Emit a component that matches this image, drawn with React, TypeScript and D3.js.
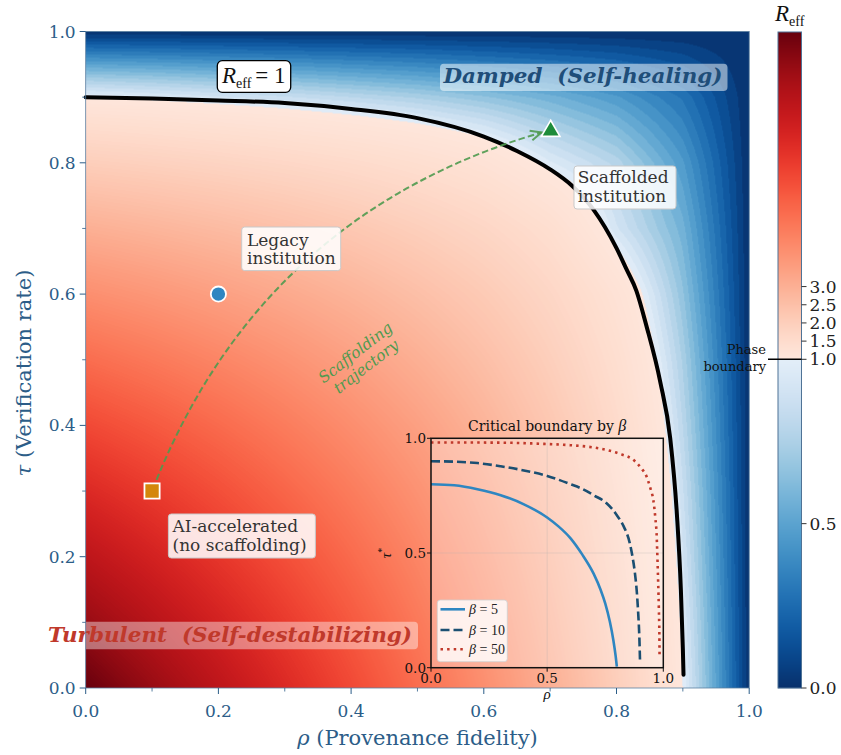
import { useMemo } from 'react'
import * as d3 from 'd3'

// grid of the R_eff field
const GRID_RHO = [0, 0.1, 0.2, 0.3, 0.4, 0.5, 0.6, 0.7, 0.8, 0.9, 1.0]
const GRID_TAU = [0, 0.1, 0.2, 0.3, 0.4, 0.5, 0.6, 0.7, 0.8, 0.9, 1.0]
// one row per tau (bottom -> top), one value per rho
const R_EFF_ROWS = [
  [10, 9, 8, 7, 6, 5, 4, 3, 2, 1, 0],
  [9, 8.15, 7.3, 6.43, 5.55, 4.65, 3.75, 2.83, 1.9, 0.96, 0],
  [8, 7.3, 6.57, 5.83, 5.07, 4.28, 3.48, 2.65, 1.79, 0.91, 0],
  [7, 6.43, 5.83, 5.21, 4.56, 3.89, 3.19, 2.45, 1.67, 0.86, 0],
  [6, 5.55, 5.07, 4.56, 4.03, 3.47, 2.87, 2.23, 1.54, 0.8, 0],
  [5, 4.65, 4.28, 3.89, 3.47, 3.01, 2.52, 1.98, 1.39, 0.74, 0],
  [4, 3.75, 3.48, 3.19, 2.87, 2.52, 2.14, 1.71, 1.22, 0.66, 0],
  [3, 2.83, 2.65, 2.45, 2.23, 1.98, 1.71, 1.39, 0.91, 0.57, 0],
  [2, 1.9, 1.79, 1.67, 1.54, 1.39, 1.22, 0.96, 0.78, 0.46, 0],
  [1, 0.96, 0.91, 0.86, 0.8, 0.74, 0.66, 0.57, 0.46, 0.29, 0],
  [0, 0, 0, 0, 0, 0, 0, 0, 0, 0, 0],
]
const R_MAX = 10

// R_eff = 1 phase boundary (beta = 10)
const BOUNDARY_RHO = [0, 0.1, 0.2, 0.3, 0.4, 0.5, 0.6, 0.65, 0.7, 0.733, 0.765, 0.8, 0.815, 0.83, 0.845, 0.866, 0.881, 0.891, 0.897, 0.9, 0.901]
const BOUNDARY_TAU = [0.9, 0.898, 0.895, 0.891, 0.882, 0.868, 0.84, 0.818, 0.79, 0.765, 0.729, 0.67, 0.638, 0.605, 0.552, 0.466, 0.38, 0.265, 0.15, 0.06, 0.02]

// inset: critical boundary for several beta
const BETA_5 = [[0, 0.8], [0.1, 0.795], [0.2, 0.778], [0.3, 0.752], [0.4, 0.712], [0.5, 0.655], [0.55, 0.615], [0.6, 0.565], [0.65, 0.495], [0.7, 0.41], [0.73, 0.34], [0.75, 0.28], [0.77, 0.2], [0.785, 0.12], [0.795, 0.05], [0.8, 0.005]]
const BETA_10 = [[0, 0.9], [0.1, 0.898], [0.2, 0.892], [0.3, 0.878], [0.4, 0.86], [0.5, 0.836], [0.6, 0.8], [0.65, 0.78], [0.7, 0.752], [0.756, 0.717], [0.8, 0.665], [0.83, 0.615], [0.856, 0.542], [0.868, 0.48], [0.878, 0.411], [0.886, 0.33], [0.892, 0.237], [0.897, 0.13], [0.9, 0.02]]
const BETA_50 = [[0, 0.982], [0.3, 0.981], [0.5, 0.975], [0.6, 0.97], [0.7, 0.96], [0.756, 0.949], [0.82, 0.93], [0.871, 0.906], [0.905, 0.87], [0.928, 0.833], [0.945, 0.78], [0.957, 0.731], [0.966, 0.65], [0.971, 0.586], [0.975, 0.47], [0.978, 0.368], [0.981, 0.25], [0.983, 0.15], [0.984, 0.04]]
const BETA_LABELS = ['5', '10', '50']

// institution states (rho, tau)
const STATE_NAMES = ['Legacy institution', 'AI-accelerated (no scaffolding)', 'Scaffolded institution']
const STATE_RHO = [0.2, 0.1, 0.7]
const STATE_TAU = [0.6, 0.3, 0.85]

const AXIS_TICKS = [0, 0.2, 0.4, 0.6, 0.8, 1.0]
const MINOR_TICKS = [0.1, 0.3, 0.5, 0.7, 0.9]
const INSET_TICKS = [0, 0.5, 1.0]
const CBAR_TICKS = [0, 0.5, 1.0, 1.5, 2.0, 2.5, 3.0]

const LEVEL_STEP = 0.05
const SERIF = "'DejaVu Serif', serif"
const MATH = "'Liberation Serif', 'DejaVu Serif', serif"
const AXIS_COLOR = '#2c5d88'
const NB = '\u00a0'

const colorOf = (r: number) =>
  r >= 1
    ? d3.interpolateReds(0.08 + 0.92 * Math.min(1, (r - 1) / (R_MAX - 1)))
    : d3.interpolateBlues(1 - 0.9 * Math.max(0, r))

function fieldAt(rho: number, tau: number) {
  const i = Math.max(0, Math.min(GRID_RHO.length - 2, d3.bisectRight(GRID_RHO, rho) - 1))
  const j = Math.max(0, Math.min(GRID_TAU.length - 2, d3.bisectRight(GRID_TAU, tau) - 1))
  const fx = (rho - GRID_RHO[i]) / (GRID_RHO[i + 1] - GRID_RHO[i])
  const fy = (tau - GRID_TAU[j]) / (GRID_TAU[j + 1] - GRID_TAU[j])
  const a = R_EFF_ROWS[j][i] * (1 - fx) + R_EFF_ROWS[j][i + 1] * fx
  const b = R_EFF_ROWS[j + 1][i] * (1 - fx) + R_EFF_ROWS[j + 1][i + 1] * fx
  return a * (1 - fy) + b * fy
}

function renderField(w: number, h: number) {
  const canvas = document.createElement('canvas')
  canvas.width = w
  canvas.height = h
  const ctx = canvas.getContext('2d')
  if (!ctx) return ''
  const img = ctx.createImageData(w, h)
  const cache = new Map<number, d3.RGBColor>()
  for (let py = 0; py < h; py++) {
    const tau = 1 - (py + 0.5) / h
    for (let px = 0; px < w; px++) {
      const rho = (px + 0.5) / w
      const lvl = Math.floor(fieldAt(rho, tau) / LEVEL_STEP)
      let c = cache.get(lvl)
      if (!c) {
        c = d3.rgb(colorOf((lvl + 0.5) * LEVEL_STEP))
        cache.set(lvl, c)
      }
      const k = (py * w + px) * 4
      img.data[k] = c.r
      img.data[k + 1] = c.g
      img.data[k + 2] = c.b
      img.data[k + 3] = 255
    }
  }
  ctx.putImageData(img, 0, 0)
  return canvas.toDataURL()
}

// quadratic bezier helpers for the arc3-style trajectory
type P = [number, number]
const quadAt = (p0: P, c: P, p2: P, t: number): P => [
  (1 - t) * (1 - t) * p0[0] + 2 * t * (1 - t) * c[0] + t * t * p2[0],
  (1 - t) * (1 - t) * p0[1] + 2 * t * (1 - t) * c[1] + t * t * p2[1],
]
const blossom = (p0: P, c: P, p2: P, a: number, b: number): P => {
  const w0 = (1 - a) * (1 - b), w1 = (1 - a) * b + a * (1 - b), w2 = a * b
  return [w0 * p0[0] + w1 * c[0] + w2 * p2[0], w0 * p0[1] + w1 * c[1] + w2 * p2[1]]
}

function MathR({ size, sub }: { size: number; sub: number }) {
  return (
    <>
      <tspan fontFamily={MATH} fontStyle="italic" fontSize={size}>R</tspan>
      <tspan fontFamily={MATH} fontSize={sub} dy={size * 0.22}>eff</tspan>
    </>
  )
}

export default function App() {
  const W = 841, H = 755
  const x = d3.scaleLinear().domain([0, 1]).range([85.7, 749.2])
  const y = d3.scaleLinear().domain([0, 1]).range([688, 31.5])
  const ix = d3.scaleLinear().domain([0, 1]).range([431, 663.3])
  const iy = d3.scaleLinear().domain([0, 1]).range([667.7, 438.3])
  const cb = d3.scaleLinear().domain([0, 1, R_MAX]).range([688, 359.3, 32])
  const cbX = 778, cbW = 23.5

  const heatmap = useMemo(() => renderField(664, 657), [])

  const boundaryPath = d3.line<number>()
    .x((_, i) => x(BOUNDARY_RHO[i]))
    .y((_, i) => y(BOUNDARY_TAU[i]))
    .curve(d3.curveMonotoneX)(BOUNDARY_RHO) || ''

  const insetLine = d3.line<number[]>()
    .x(d => ix(d[0]))
    .y(d => iy(d[1]))
    .curve(d3.curveMonotoneX)
  const insetSeries = [BETA_5, BETA_10, BETA_50]
  const insetStyles = [
    { stroke: '#2e86c1', dash: undefined as string | undefined },
    { stroke: '#1b4f72', dash: '9 4' },
    { stroke: '#c0392b', dash: '2.5 4.1' },
  ]

  // trajectory: AI-accelerated -> Scaffolded, arc3 rad=-0.25
  const p0: P = [x(STATE_RHO[1]), y(STATE_TAU[1])]
  const p2: P = [x(STATE_RHO[2]), y(STATE_TAU[2])]
  const rad = -0.25
  const mid: P = [(p0[0] + p2[0]) / 2, (p0[1] + p2[1]) / 2]
  const ctrl: P = [mid[0] - rad * (p2[1] - p0[1]), mid[1] + rad * (p2[0] - p0[0])]
  const t0 = 0.02, t1 = 0.985
  const s0 = quadAt(p0, ctrl, p2, t0)
  const s2 = quadAt(p0, ctrl, p2, t1)
  const sc = blossom(p0, ctrl, p2, t0, t1)
  const trajPath = d3.path()
  trajPath.moveTo(s0[0], s0[1])
  trajPath.quadraticCurveTo(sc[0], sc[1], s2[0], s2[1])
  const ang = Math.atan2(s2[1] - sc[1], s2[0] - sc[0])
  const headLen = 12, headAng = 0.42
  const h1: P = [s2[0] - headLen * Math.cos(ang - headAng), s2[1] - headLen * Math.sin(ang - headAng)]
  const h2: P = [s2[0] - headLen * Math.cos(ang + headAng), s2[1] - headLen * Math.sin(ang + headAng)]

  const cbRows = d3.range(32, 688)

  // annotation boxes (layout only)
  const boxes = [
    { x: 241.7, y: 227, w: 99, h: 43.6, tx: 247, lines: ['Legacy', 'institution'], b: [245.5, 264] },
    { x: 168.4, y: 514, w: 147, h: 44, tx: 172.5, lines: ['AI-accelerated', '(no scaffolding)'], b: [531.5, 550.5] },
    { x: 574, y: 166, w: 102, h: 43, tx: 577.7, lines: ['Scaffolded', 'institution'], b: [183, 201.5] },
  ]

  const triangle = d3.symbol(d3.symbolTriangle, 150)() || ''
  const square = d3.symbol(d3.symbolSquare, 230)() || ''

  return (
    <svg width={W} height={H} viewBox={`0 0 ${W} ${H}`}
      style={{ position: 'absolute', left: 0, top: 0, background: '#fff' }}>
      <defs>
        <clipPath id="plot-clip">
          <rect x={x(0)} y={y(1)} width={x(1) - x(0)} height={y(0) - y(1)} />
        </clipPath>
      </defs>

      {/* field */}
      <image href={heatmap} x={x(0)} y={y(1)} width={x(1) - x(0)} height={y(0) - y(1)} preserveAspectRatio="none" />

      {/* phase boundary */}
      <path d={boundaryPath} fill="none" stroke="#000" strokeWidth={4} strokeLinecap="round" />

      {/* trajectory */}
      <g stroke="#4f9a4f" strokeOpacity={0.9} fill="none" strokeWidth={2}>
        <path d={trajPath.toString()} strokeDasharray="6.5 3.2" />
        <path d={`M${h1[0]},${h1[1]}L${s2[0]},${s2[1]}L${h2[0]},${h2[1]}`} />
      </g>
      <text transform="translate(361,360) rotate(-37.6)" fill="#4f9a4f" fontFamily={SERIF}
        fontStyle="italic" fontSize={15.5} textAnchor="middle">
        <tspan x={0} y={-4}>Scaffolding</tspan>
        <tspan x={0} y={13.5}>trajectory</tspan>
      </text>

      {/* markers */}
      <circle cx={x(STATE_RHO[0])} cy={y(STATE_TAU[0])} r={7.6} fill="#2e86c1" stroke="#fff" strokeWidth={1.8} />
      <path d={square} transform={`translate(${x(STATE_RHO[1])},${y(STATE_TAU[1])})`} fill="#d4860b" stroke="#fff" strokeWidth={1.8} />
      <path d={triangle} transform={`translate(${x(STATE_RHO[2]) + 0.5},${y(STATE_TAU[2]) + 1})`} fill="#1e8c3a" stroke="#fff" strokeWidth={1.6} />

      {/* annotation boxes */}
      {boxes.map((b, k) => (
        <g key={STATE_NAMES[k]}>
          <rect x={b.x} y={b.y} width={b.w} height={b.h} rx={3} fill="#fff" fillOpacity={0.87} stroke="#c9c9c9" strokeWidth={1} />
          {b.lines.map((ln, i) => (
            <text key={ln} x={b.tx} y={b.b[i]} fontFamily={SERIF} fontSize={17} fill="#333">{ln}</text>
          ))}
        </g>
      ))}

      {/* R_eff = 1 tag */}
      <rect x={217.3} y={60.7} width={73.4} height={31.6} rx={5} fill="#fff" stroke="#000" strokeWidth={1.3} />
      <text x={222} y={83} fill="#111">
        <MathR size={23} sub={14} />
        <tspan fontFamily={MATH} fontSize={23} dy={-23 * 0.22} dx={4}>= 1</tspan>
      </text>

      {/* regime labels */}
      <rect x={440} y={63.7} width={287.5} height={27.3} rx={4} fill="#fff" fillOpacity={0.5} />
      <text x={443.5} y={83} fontFamily={SERIF} fontWeight="bold" fontStyle="italic" fontSize={21}
        fill="#1f4e79" textLength={279} lengthAdjust="spacingAndGlyphs">{`Damped${NB}${NB}(Self-healing)`}</text>
      <rect x={40} y={621.7} width={378} height={27.6} rx={4} fill="#fff" fillOpacity={0.42} clipPath="url(#plot-clip)" />
      <text x={48} y={641.5} fontFamily={SERIF} fontWeight="bold" fontStyle="italic" fontSize={21}
        fill="#c0392b" textLength={364} lengthAdjust="spacingAndGlyphs">{`Turbulent${NB}${NB}(Self-destabilizing)`}</text>

      {/* main axes frame and ticks */}
      <rect x={x(0)} y={y(1)} width={x(1) - x(0)} height={y(0) - y(1)} fill="none" stroke="#5b7fa0" strokeWidth={0.8} />
      <g stroke={AXIS_COLOR} strokeWidth={1}>
        {AXIS_TICKS.map(t => <line key={'xt' + t} x1={x(t)} x2={x(t)} y1={y(0)} y2={y(0) + 6} />)}
        {AXIS_TICKS.map(t => <line key={'yt' + t} x1={x(0)} x2={x(0) - 6} y1={y(t)} y2={y(t)} />)}
        {MINOR_TICKS.map(t => <line key={'xm' + t} x1={x(t)} x2={x(t)} y1={y(0)} y2={y(0) + 3.5} strokeWidth={0.8} />)}
        {MINOR_TICKS.map(t => <line key={'ym' + t} x1={x(0)} x2={x(0) - 3.5} y1={y(t)} y2={y(t)} strokeWidth={0.8} />)}
      </g>
      <g fontFamily={SERIF} fontSize={17} fill={AXIS_COLOR}>
        {AXIS_TICKS.map(t => (
          <text key={'xl' + t} x={x(t)} y={716.5} textAnchor="middle">{t.toFixed(1)}</text>
        ))}
        {AXIS_TICKS.map(t => (
          <text key={'yl' + t} x={x(0) - 10} y={y(t) + 6} textAnchor="end">{t.toFixed(1)}</text>
        ))}
      </g>
      <text x={(x(0) + x(1)) / 2} y={744.5} textAnchor="middle" fontFamily={SERIF} fontSize={21} fill={AXIS_COLOR}>
        <tspan fontStyle="italic">ρ</tspan> (Provenance fidelity)
      </text>
      <text transform="translate(31,373) rotate(-90)" textAnchor="middle" fontFamily={SERIF} fontSize={21} fill={AXIS_COLOR}>
        <tspan fontStyle="italic">τ</tspan> (Verification rate)
      </text>

      {/* inset */}
      <rect x={ix(0)} y={iy(1)} width={ix(1) - ix(0)} height={iy(0) - iy(1)} fill="#fff" fillOpacity={0.3} />
      <g stroke="#b0b0b0" strokeOpacity={0.35} strokeWidth={0.8}>
        <line x1={ix(0)} x2={ix(1)} y1={iy(0.5)} y2={iy(0.5)} />
        <line x1={ix(0.5)} x2={ix(0.5)} y1={iy(0)} y2={iy(1)} />
      </g>
      {insetSeries.map((s, k) => (
        <path key={BETA_LABELS[k]} d={insetLine(s) || ''} fill="none" stroke={insetStyles[k].stroke}
          strokeWidth={2.6} strokeDasharray={insetStyles[k].dash} />
      ))}
      <rect x={ix(0)} y={iy(1)} width={ix(1) - ix(0)} height={iy(0) - iy(1)} fill="none" stroke="#111" strokeWidth={1.5} />
      <g stroke="#111" strokeWidth={1}>
        {INSET_TICKS.map(t => <line key={'ixt' + t} x1={ix(t)} x2={ix(t)} y1={iy(0)} y2={iy(0) + 4} />)}
        {INSET_TICKS.map(t => <line key={'iyt' + t} x1={ix(0)} x2={ix(0) - 4} y1={iy(t)} y2={iy(t)} />)}
      </g>
      <g fontFamily={SERIF} fontSize={13.5} fill="#111">
        {INSET_TICKS.map(t => (
          <text key={'ixl' + t} x={ix(t)} y={683} textAnchor="middle">{t.toFixed(1)}</text>
        ))}
        {INSET_TICKS.map(t => (
          <text key={'iyl' + t} x={ix(0) - 5} y={iy(t) + 5} textAnchor="end">{t.toFixed(1)}</text>
        ))}
        <text x={(ix(0) + ix(1)) / 2} y={431} textAnchor="middle" fontSize={14}>
          Critical boundary by <tspan fontFamily={MATH} fontStyle="italic" fontSize={16}>β</tspan>
        </text>
        <text x={(ix(0) + ix(1)) / 2} y={698.5} textAnchor="middle" fontFamily={MATH} fontStyle="italic" fontSize={15}>ρ</text>
        <text transform="translate(391,553) rotate(-90)" textAnchor="middle" fontFamily={MATH} fontStyle="italic" fontSize={15}>
          τ<tspan fontSize={10} dy={-6} fontStyle="normal">*</tspan>
        </text>
      </g>
      {/* inset legend */}
      <rect x={437.3} y={600} width={70} height={61.7} rx={3} fill="#fff" fillOpacity={0.82} stroke="#cfcfcf" strokeWidth={0.8} />
      {BETA_LABELS.map((b, k) => {
        const ly = [609.3, 630, 649.3][k]
        return (
          <g key={'lg' + b}>
            <line x1={440.5} x2={465} y1={ly} y2={ly} stroke={insetStyles[k].stroke} strokeWidth={2.6}
              strokeDasharray={insetStyles[k].dash} />
            <text x={469} y={ly + 4.5} fontFamily={MATH} fontSize={14} fill="#222">
              <tspan fontStyle="italic">β</tspan> = {b}
            </text>
          </g>
        )
      })}

      {/* colorbar */}
      {cbRows.map(py => (
        <rect key={'cb' + py} x={cbX} y={py} width={cbW} height={1.2} fill={colorOf(cb.invert(py + 0.5))} />
      ))}
      <rect x={cbX} y={32} width={cbW} height={656} fill="none" stroke="#4f7396" strokeWidth={1} />
      <g stroke="#333" strokeWidth={1}>
        {CBAR_TICKS.map(t => <line key={'cbt' + t} x1={cbX + cbW} x2={cbX + cbW + 5} y1={cb(t)} y2={cb(t)} />)}
      </g>
      <g fontFamily={SERIF} fontSize={17} fill="#222">
        {CBAR_TICKS.map(t => (
          <text key={'cbl' + t} x={cbX + cbW + 8} y={cb(t) + 6}>{t.toFixed(1)}</text>
        ))}
      </g>
      <text x={775} y={21} fill="#111"><MathR size={23} sub={14} /></text>
      <line x1={768} x2={cbX + cbW} y1={cb(1)} y2={cb(1)} stroke="#000" strokeWidth={1.6} />
      <g fontFamily={SERIF} fontSize={13} fill="#111" textAnchor="end">
        <text x={766} y={354}>Phase</text>
        <text x={766} y={370.5}>boundary</text>
      </g>
    </svg>
  )
}
